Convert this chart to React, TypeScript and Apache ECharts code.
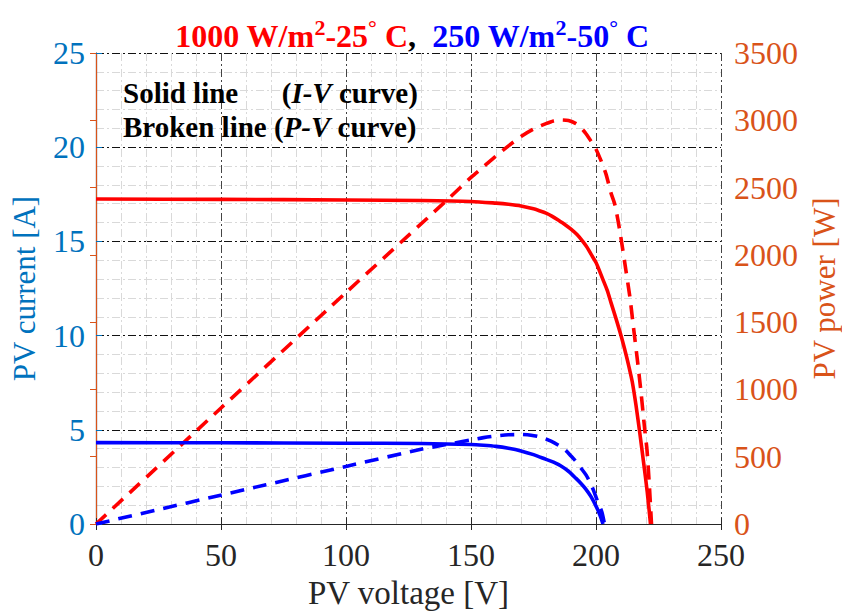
import React, { useEffect, useRef } from "react";
import * as echarts from "echarts";

// Irradiance 1000 W/m2, 25 °C  — I-V (A) and P-V (W) vs voltage (V)
const redIV: [number, number][] = [
  [0, 17.25], [50, 17.23], [100, 17.2], [130, 17.17], [150, 17.12], [160, 17.03], [165, 16.97],
  [170, 16.88], [175, 16.73], [177.3, 16.63], [180, 16.5], [182.5, 16.33], [185, 16.12],
  [187.5, 15.9], [190, 15.65], [192.5, 15.35], [194.7, 15.0], [196.5, 14.67], [198, 14.32],
  [200, 13.88], [202.7, 13.0], [204.5, 12.4], [206, 11.75], [208, 10.9], [210, 10.0],
  [212, 9.0], [213, 8.45], [214.5, 7.55], [216, 6.3], [217.5, 4.85], [219, 3.3],
  [220.5, 1.7], [221.8, 0],
];
const redPV: [number, number][] = [
  [0, 0], [50, 862], [100, 1720], [140, 2400], [150, 2576], [155, 2655], [160, 2735],
  [165, 2810], [170, 2880], [175, 2935], [180, 2975], [183, 2995], [186, 3003], [189, 2998],
  [192, 2975], [194, 2945], [196, 2900], [198, 2845], [200, 2785], [202, 2700], [204, 2600],
  [206, 2460], [207.6, 2370], [209.6, 2170], [212, 1880], [213.6, 1680], [215, 1460],
  [216.7, 1196], [218, 980], [219.5, 700], [220.4, 550], [221.3, 300], [222.2, 0],
];
// Irradiance 250 W/m2, 50 °C
const blueIV: [number, number][] = [
  [0, 4.32], [50, 4.31], [100, 4.29], [130, 4.27], [150, 4.22], [155, 4.18], [160, 4.12],
  [165, 4.02], [170, 3.88], [175, 3.68], [180, 3.43], [183, 3.28], [186, 3.08], [189, 2.8],
  [192, 2.42], [194, 2.15], [196, 1.84], [198, 1.45], [200, 0.95], [201.5, 0.5], [202.8, 0],
];
const bluePV: [number, number][] = [
  [0, 0], [67.6, 290], [100, 428], [130, 555], [140, 590], [150, 625], [155, 642], [160, 655],
  [165, 663], [170, 665], [174, 660], [178, 645], [182, 615], [185.6, 578], [188, 545],
  [190, 505], [192, 465], [194.4, 405], [196, 365], [197.6, 310], [199, 250], [200.4, 180],
  [201.5, 130], [202.4, 85], [203.4, 0],
];

const FONT = "'Liberation Serif', 'Times New Roman', serif";
const LEFT_C = "#0072BD";
const RIGHT_C = "#D95319";
const AX_C = "#262626";

export default function App() {
  const ref = useRef<HTMLDivElement>(null);
  useEffect(() => {
    document.body.style.margin = "0";
    const chart = echarts.init(ref.current!, null, { renderer: "svg" });
    const gridL = 96, gridR = 121, gridT = 53, gridB = 89;
    const dashDot = [8, 3, 2, 3];
    const line = (data: [number, number][], color: string, yIdx: number, dashed: boolean) => ({
      type: "line",
      data,
      yAxisIndex: yIdx,
      showSymbol: false,
      smooth: 0.25,
      lineStyle: { color, width: 3.6, type: dashed ? [14, 9] : "solid", join: "round" },
      z: 5,
    });
    chart.setOption({
      animation: false,
      grid: {
        left: gridL, right: gridR, top: gridT, bottom: gridB,
        containLabel: false, outerBoundsMode: "none",
      },
      xAxis: [
        {
          type: "value", min: 0, max: 250, interval: 50,
          name: "PV voltage [V]", nameLocation: "middle", nameGap: 52,
          nameTextStyle: { fontFamily: FONT, fontSize: 33, color: AX_C },
          axisLine: { lineStyle: { color: AX_C, width: 1.2 } },
          axisTick: { inside: true, length: 6, lineStyle: { color: AX_C } },
          axisLabel: { fontFamily: FONT, fontSize: 32, color: AX_C, margin: 15 },
          splitLine: { show: true, lineStyle: { color: "#444", width: 1, type: dashDot } },
          minorTick: { show: false, splitNumber: 5 },
          minorSplitLine: { show: true, lineStyle: { color: "#d9d9d9", width: 1, type: dashDot } },
        },
        {
          type: "value", min: 0, max: 250, interval: 50, position: "top",
          axisLine: { show: true, lineStyle: { color: AX_C, width: 1.2 } },
          axisTick: { show: true, inside: true, length: 6, lineStyle: { color: AX_C } },
          axisLabel: { show: false },
          splitLine: { show: false },
        },
      ],
      yAxis: [
        {
          type: "value", min: 0, max: 25, interval: 5, position: "left",
          name: "PV current [A]", nameLocation: "middle", nameGap: 56,
          nameTextStyle: { fontFamily: FONT, fontSize: 31, color: LEFT_C },
          axisLine: { show: true, lineStyle: { color: LEFT_C, width: 1.2 } },
          axisTick: { show: true, inside: true, length: 6, lineStyle: { color: LEFT_C } },
          axisLabel: { fontFamily: FONT, fontSize: 32, color: LEFT_C, margin: 11 },
          splitLine: { show: true, lineStyle: { color: "#111", width: 1, type: dashDot } },
          minorTick: { show: false, splitNumber: 5 },
          minorSplitLine: { show: true, lineStyle: { color: "#d9d9d9", width: 1, type: dashDot } },
        },
        {
          type: "value", min: 0, max: 3500, interval: 500, position: "right",
          name: "PV power [W]", nameLocation: "middle", nameGap: 84, nameRotate: 90,
          nameTextStyle: { fontFamily: FONT, fontSize: 31, color: RIGHT_C },
          axisLine: { show: true, lineStyle: { color: RIGHT_C, width: 1.2 } },
          axisTick: { show: true, inside: true, length: 6, lineStyle: { color: RIGHT_C } },
          axisLabel: { fontFamily: FONT, fontSize: 32, color: RIGHT_C, margin: 13, formatter: (v: number) => String(v) },
          splitLine: { show: false },
        },
      ],
      graphic: [
        {
          type: "text",
          x: 412, y: 34,
          style: {
            text:
              "{r|1000 W/m}{rs|2}{r|-25}{rs|°}{r| C}{k|,  }{b|250 W/m}{bs|2}{b|-50}{bs|°}{b| C}",
            align: "center",
            verticalAlign: "middle",
            rich: {
              r: { fontFamily: FONT, fontSize: 32, fontWeight: "bold", fill: "#ff0000", verticalAlign: "bottom" },
              rs: { fontFamily: FONT, fontSize: 22, fontWeight: "bold", fill: "#ff0000", verticalAlign: "top", padding: [0, 0, 14, 0] },
              b: { fontFamily: FONT, fontSize: 32, fontWeight: "bold", fill: "#0000ff", verticalAlign: "bottom" },
              bs: { fontFamily: FONT, fontSize: 22, fontWeight: "bold", fill: "#0000ff", verticalAlign: "top", padding: [0, 0, 14, 0] },
              k: { fontFamily: FONT, fontSize: 32, fontWeight: "bold", fill: "#000", verticalAlign: "bottom" },
            },
          },
        },
        {
          type: "text",
          x: 123, y: 76,
          style: {
            text: "{n|Solid line      (}{i|I-V}{n| curve)}\n{n|Broken line (}{i|P-V}{n| curve)}",
            rich: {
              n: { fontFamily: FONT, fontSize: 29, fontWeight: "bold", fill: "#000", lineHeight: 34 },
              i: { fontFamily: FONT, fontSize: 29, fontWeight: "bold", fontStyle: "italic", fill: "#000", lineHeight: 34 },
            },
          },
          z: 10,
        },
      ],
      series: [
        line(redIV, "#ff0000", 0, false),
        line(redPV, "#ff0000", 1, true),
        line(blueIV, "#0000ff", 0, false),
        line(bluePV, "#0000ff", 1, true),
      ],
    });
    return () => chart.dispose();
  }, []);
  return <div ref={ref} style={{ width: 842, height: 613 }} />;
}
